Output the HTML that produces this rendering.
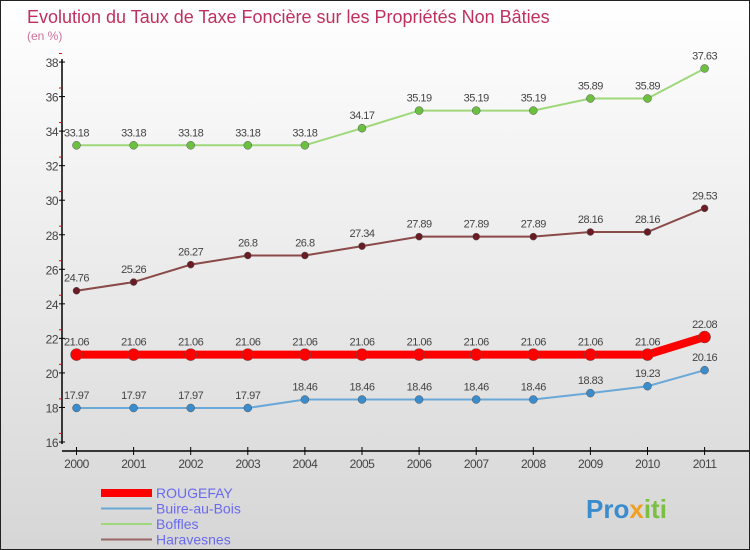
<!DOCTYPE html>
<html><head><meta charset="utf-8"><style>
body{margin:0}
#c{width:750px;height:550px;position:relative;overflow:hidden;background:linear-gradient(#fff,#d6d6d6);border:1px solid #222;box-sizing:border-box;font-family:"Liberation Sans",sans-serif}
</style></head><body>
<div id="c">
<svg id="s" width="750" height="550"></svg>
</div>
<script>
const years=["2000","2001","2002","2003","2004","2005","2006","2007","2008","2009","2010","2011"];
const rougefay=[21.06,21.06,21.06,21.06,21.06,21.06,21.06,21.06,21.06,21.06,21.06,22.08];
const buire=[17.97,17.97,17.97,17.97,18.46,18.46,18.46,18.46,18.46,18.83,19.23,20.16];
const boffles=[33.18,33.18,33.18,33.18,33.18,34.17,35.19,35.19,35.19,35.89,35.89,37.63];
const haravesnes=[24.76,25.26,26.27,26.8,26.8,27.34,27.89,27.89,27.89,28.16,28.16,29.53];
const yTicks=[16,18,20,22,24,26,28,30,32,34,36,38];
const NS="http://www.w3.org/2000/svg";
const s=document.getElementById('s');
function X(i){return 75.5+i*57.1;}
function Y(v){return 441-(v-16)*17.27;}
function mk(t,a,txt,p){const e=document.createElementNS(NS,t);for(const k in a)e.setAttribute(k,a[k]);if(txt!==undefined)e.textContent=txt;(p||s).appendChild(e);return e;}
let e;
e=mk('text',{x:26,y:22,'font-size':18,fill:'#c0305e'},'Evolution du Taux de Taxe Foncière sur les Propriétés Non Bâties');

e=mk('text',{x:26,y:39,'font-size':12,fill:'#d0709a'},'(en %)');

e=mk('line',{x1:61,y1:58,x2:61,y2:443,stroke:'#000','stroke-width':1.5});

e=mk('line',{x1:61,y1:450,x2:750,y2:450,stroke:'#000','stroke-width':1.5});

yTicks.forEach(v=>{const y=Y(v);
 e=mk('line',{x1:58,y1:y,x2:64,y2:y,stroke:'#000'});
 e=mk('line',{x1:58,y1:y-8.6,x2:61,y2:y-8.6,stroke:'#e00'});
 e=mk('text',{x:57,y:y+5,'font-size':12,'text-anchor':'end',fill:'#444','letter-spacing':'-0.5'},v);
 });
years.forEach((yr,i)=>{const x=X(i);
 e=mk('line',{x1:x,y1:446,x2:x,y2:454,stroke:'#000'});
 e=mk('text',{x:x,y:467,'font-size':12,'text-anchor':'middle',fill:'#444','letter-spacing':'-0.5'},yr);
 });
function series(data,color,dot,w,r,name){
 e=mk('polyline',{points:data.map((v,i)=>X(i)+','+Y(v)).join(' '),fill:'none',stroke:color,'stroke-width':w});
 
 data.forEach((v,i)=>{
  e=mk('circle',{cx:X(i),cy:Y(v),r:r,fill:dot,stroke:'#555','stroke-width':0.5});
  
  e=mk('text',{x:X(i),y:Y(v)-9,'font-size':11,'text-anchor':'middle',fill:'#444','letter-spacing':'-0.5'},String(v));
  });}
series(boffles,'#9ed87a','#6cc040',2,4,'boffles');
series(haravesnes,'#8b4a4a','#6a1c24',2,3.5,'haravesnes');
series(buire,'#6aa8d8','#3a8ccc',2,4,'buire-au-bois');
series(rougefay,'#f00','#f00',8,6,'rougefay');
const leg=[['ROUGEFAY','#f00',8],['Buire-au-Bois','#6aa8d8',2],['Boffles','#9ed87a',2],['Haravesnes','#966',2]];
leg.forEach((l,i)=>{const y=492+i*15.5;
 e=mk('line',{x1:100,y1:y,x2:151,y2:y,stroke:l[1],'stroke-width':l[2]});
 e=mk('text',{x:155,y:y+5,'font-size':14,fill:'#6a6af0'},l[0]);});
const logo=mk('text',{x:585,y:517,'font-size':26,'font-weight':'bold'});


mk('tspan',{fill:'#3a8ccc'},'Pro',logo);
mk('tspan',{fill:'#f0a020'},'x',logo);
mk('tspan',{fill:'#7bc043'},'iti',logo);
</script>
</body></html>
